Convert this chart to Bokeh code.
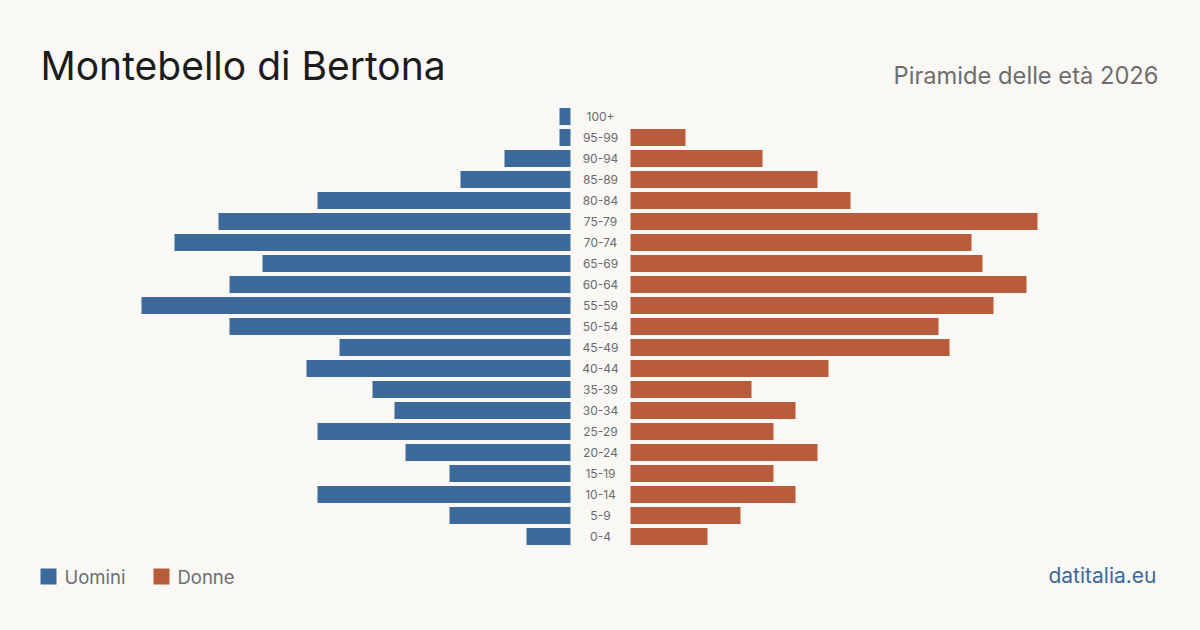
from bokeh.plotting import figure
from bokeh.models import Range1d, Label, ColumnDataSource
from bokeh.core.properties import value
from bokeh.embed import file_html
from bokeh.resources import INLINE

# Data (from bottom 0-4 to top 100+)
age_groups = ["0-4", "5-9", "10-14", "15-19", "20-24", "25-29", "30-34", "35-39",
              "40-44", "45-49", "50-54", "55-59", "60-64", "65-69", "70-74", "75-79",
              "80-84", "85-89", "90-94", "95-99", "100+"]
uomini = [4, 11, 23, 11, 15, 23, 16, 18, 24, 21, 31, 39, 31, 28, 36, 32, 23, 10, 6, 1, 1]
donne = [7, 10, 15, 13, 17, 13, 15, 11, 18, 29, 28, 33, 36, 32, 31, 37, 20, 17, 12, 5, 0]

title = "Montebello di Bertona"
subtitle = "Piramide delle età 2026"
source_label = "datitalia.eu"

BLUE = "#3b6a9a"
RED = "#b85c3c"
BG = "#f9f8f4"
FONT = "Inter"

W, H = 1200, 630
half_gap = 30 / 11.0  # half of the central label gap, in data units

p = figure(width=W, height=H, output_backend="svg", toolbar_location=None,
           x_range=Range1d(-600 / 11.0, 600 / 11.0),
           y_range=Range1d(-94 / 21.0, 536 / 21.0),
           min_border=0, background_fill_color=BG, border_fill_color=BG)
p.axis.visible = False
p.grid.visible = False
p.outline_line_color = None

ys = list(range(len(age_groups)))
src = ColumnDataSource(dict(
    y=ys,
    age=age_groups,
    m_left=[-half_gap - v for v in uomini],
    m_right=[-half_gap] * len(ys),
    f_left=[half_gap] * len(ys),
    f_right=[half_gap + v for v in donne],
    zero=[0] * len(ys),
))

p.hbar(y="y", left="m_left", right="m_right", height=17 / 21.0, source=src,
       fill_color=BLUE, line_color=None)
p.hbar(y="y", left="f_left", right="f_right", height=17 / 21.0, source=src,
       fill_color=RED, line_color=None)
p.text(x="zero", y="y", text="age", source=src, text_align="center",
       text_baseline="middle", text_font=value(FONT), text_font_size="12px",
       text_color="#6b6b6b")

# Title and subtitle (screen coordinates, y from bottom)
p.add_layout(Label(x=40, y=H - 65, x_units="screen", y_units="screen", text=title,
                   text_font=FONT, text_font_size="39px", text_color="#1c1c1c",
                   text_baseline="alphabetic"))
p.add_layout(Label(x=1158, y=H - 75, x_units="screen", y_units="screen", text=subtitle,
                   text_font=FONT, text_font_size="23.7px", text_color="#6e6e6e",
                   text_align="right", text_baseline="alphabetic"))

# Legend
p.rect(x=[-600 / 11.0 + 48 / 11.0], y=[(536 - 576) / 21.0], width=16 / 11.0, height=16 / 21.0,
       fill_color=BLUE, line_color=None)
p.rect(x=[-600 / 11.0 + 161 / 11.0], y=[(536 - 576) / 21.0], width=16 / 11.0, height=16 / 21.0,
       fill_color=RED, line_color=None)
p.add_layout(Label(x=64, y=H - 576, x_units="screen", y_units="screen", text="Uomini",
                   text_font=FONT, text_font_size="18.5px", text_color="#6e6e6e",
                   text_baseline="alphabetic"))
p.add_layout(Label(x=177, y=H - 576, x_units="screen", y_units="screen", text="Donne",
                   text_font=FONT, text_font_size="18.5px", text_color="#6e6e6e",
                   text_baseline="alphabetic"))
p.add_layout(Label(x=1156, y=H - 575, x_units="screen", y_units="screen", text=source_label,
                   text_font=FONT, text_font_size="21px", text_color=BLUE,
                   text_align="right", text_baseline="alphabetic"))

open("out.html", "w").write(file_html(p, INLINE))
